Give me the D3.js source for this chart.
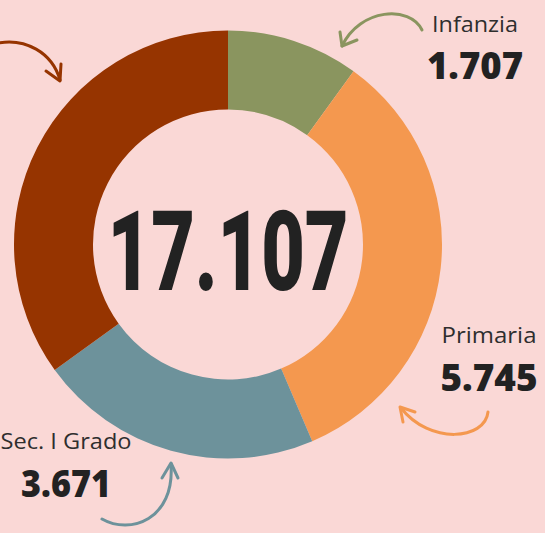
<!DOCTYPE html>
<html>
<head>
<meta charset="utf-8">
<script src="https://cdn.jsdelivr.net/npm/d3@7"></script>
<style>
  html, body { margin: 0; padding: 0; background: #fad8d6; }
  svg { display: block; }
  .lab { font-family: "Open Sans", sans-serif; fill: #2e2e2e; }
  .num { font-family: "Open Sans", sans-serif; font-weight: 800; fill: #222; }
</style>
</head>
<body>
<svg width="545" height="533"></svg>
<script>
"use strict";

var categories = ["Infanzia", "Primaria", "Sec. I Grado", "Sec. II Grado"];
var values = [1707, 5745, 3671, 5984];
var colours = ["#8a955f", "#f4984f", "#6d929b", "#963400"];
// only the first three have labels in the picture
var shown = [true, true, true, false];

var svg = d3.select("svg");
var cx = 228, cy = 244.5;

var it = d3.formatLocale({ decimal: ",", thousands: ".", grouping: [3], currency: ["€", ""] });
var fmt = it.format(",d");

var pie = d3.pie().sort(null).value(function(d) { return d; });
var arc = d3.arc().innerRadius(135).outerRadius(214);

var ring = svg.append("g").attr("transform", "translate(" + cx + "," + cy + ")");
ring.selectAll("path")
  .data(pie(values))
  .enter().append("path")
    .attr("d", arc)
    .attr("fill", function(d, i) { return colours[i]; });

var total = d3.sum(values);
svg.append("text")
  .attr("x", cx).attr("y", 290)
  .attr("text-anchor", "middle")
  .attr("textLength", 241)
  .attr("lengthAdjust", "spacingAndGlyphs")
  .style("font-family", "Roboto, sans-serif")
  .style("font-weight", 900)
  .style("font-size", "111px")
  .style("fill", "#222")
  .text(fmt(total));

// label layout: centre x, name baseline, number baseline, name width, number width
var labelPos = [
  [475, 32, 79, 86, 96],
  [489, 343, 391, 95, 97],
  [66, 449, 497, 131, 90],
  [0, 0, 0, 0, 0]
];

var labels = svg.append("g");
categories.forEach(function(c, i) {
  if (!shown[i]) return;
  var p = labelPos[i];
  labels.append("text").attr("class", "lab")
    .attr("x", p[0]).attr("y", p[1])
    .attr("text-anchor", "middle")
    .attr("textLength", p[3])
    .attr("lengthAdjust", "spacingAndGlyphs")
    .style("font-size", "22px")
    .text(c);
  labels.append("text").attr("class", "num")
    .attr("x", p[0]).attr("y", p[2])
    .attr("text-anchor", "middle")
    .attr("textLength", p[4])
    .attr("lengthAdjust", "spacingAndGlyphs")
    .style("font-size", "37px")
    .text(fmt(values[i]));
});

// hand drawn arrows: curve + head
var arrows = [
  { c: 3, d: "M-2,43 C25,38 52,52 60,80", h: "M46,71 L60,81 L61,64" },
  { c: 0, d: "M422,30 C410,5 360,8 342,46", h: "M340,32 L342,46 L357,40" },
  { c: 1, d: "M488,412 C485,440 430,445 401,408", h: "M415,412 L400,407 L403,422" },
  { c: 2, d: "M102,519 C130,535 175,520 171,464", h: "M162,478 L171,463 L178,478" }
];
var ag = svg.append("g")
  .attr("fill", "none")
  .attr("stroke-width", 3)
  .attr("stroke-linecap", "round")
  .attr("stroke-linejoin", "round");
arrows.forEach(function(a) {
  ag.append("path").attr("d", a.d).attr("stroke", colours[a.c]);
  ag.append("path").attr("d", a.h).attr("stroke", colours[a.c]);
});
</script>
</body>
</html>
